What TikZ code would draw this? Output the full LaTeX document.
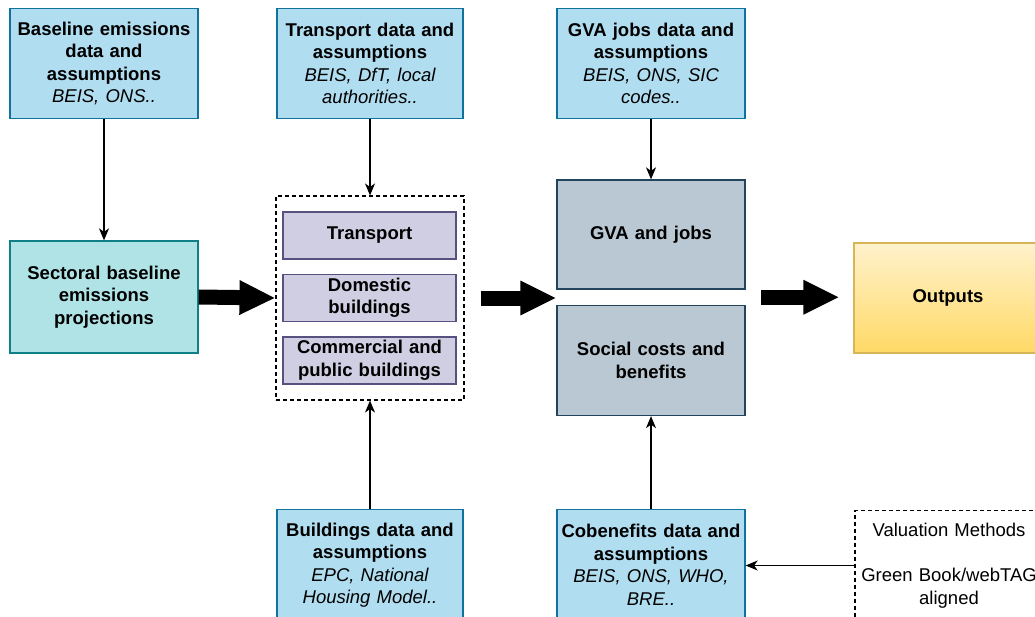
\documentclass[tikz,border=0pt]{standalone}
\usepackage{fontspec}
\setmainfont{Liberation Sans}
\usetikzlibrary{arrows.meta,calc}
\definecolor{bfill}{HTML}{B1DDF0}
\definecolor{bline}{HTML}{10739E}
\definecolor{tfill}{HTML}{B0E3E6}
\definecolor{tline}{HTML}{0E8088}
\definecolor{pfill}{HTML}{D0CEE2}
\definecolor{pline}{HTML}{56517E}
\definecolor{gfill}{HTML}{BAC8D3}
\definecolor{gline}{HTML}{23445D}
\definecolor{ytop}{HTML}{FFF2CC}
\definecolor{ybot}{HTML}{FFD966}
\definecolor{yline}{HTML}{D6B656}
\newcommand\srctext[1]{{\mdseries\itshape #1}}
\begin{document}
\begin{tikzpicture}[x=1pt,y=-1pt,
  font=\fontsize{18.5}{22.5}\selectfont,
  basebox/.style={line width=1.3pt, inner sep=0pt, align=center, font=\fontsize{18.5}{22.5}\selectfont\bfseries},
  databox/.style={basebox, draw=bline, fill=bfill, text width=184pt, minimum width=188pt, minimum height=110pt},
  sectbox/.style={basebox, draw=tline, fill=tfill, text width=184pt, minimum width=188pt, minimum height=112pt},
  subbox/.style={basebox, draw=pline, fill=pfill, text width=170pt, minimum width=173pt, minimum height=47pt},
  greybox/.style={basebox, draw=gline, fill=gfill, text width=184pt, minimum width=188pt, minimum height=109pt},
  outbox/.style={basebox, draw=yline, top color=ytop, bottom color=ybot, text width=184pt, minimum width=188pt, minimum height=110pt},
  dashbox/.style={draw=black, line width=1.1pt, dash pattern=on 4pt off 3pt, inner sep=0pt},
  thinarrow/.style={line width=1.2pt, -{Stealth[length=12pt,width=10pt,inset=3.5pt]}},
  bigarrow/.style={line width=15pt, -{Triangle[length=36pt,width=32pt]}}
]
\path[use as bounding box] (0,0) rectangle (1035,616);

% top data boxes
\node[databox] (bdata) at (104,63.5) {Baseline emissions\\data and\\assumptions\\\srctext{BEIS, ONS..}};
\node[databox, minimum width=186pt] (tdata) at (370,63.5) {Transport data and\\assumptions\\\srctext{BEIS, DfT, local}\\\srctext{authorities..}};
\node[databox] (gdata) at (651,63.5) {GVA jobs data and\\assumptions\\\srctext{BEIS, ONS, SIC}\\\srctext{codes..}};

% sectoral
\node[sectbox] (sect) at (104,297) {Sectoral baseline\\emissions\\projections};

% container
\node[dashbox, minimum width=188pt, minimum height=204pt] (cont) at (370,298) {};
\node[subbox] (itrans) at (369.5,235.5) {Transport};
\node[subbox] (idom) at (369.5,298) {Domestic\\buildings};
\node[subbox] (icom) at (369.5,360.5) {Commercial and\\public buildings};

% grey boxes
\node[greybox] (gva) at (651,234.5) {GVA and jobs};
\node[greybox, minimum height=110pt] (soc) at (651,360.5) {Social costs and\\benefits};

% outputs
\node[outbox] (out) at (948,298) {Outputs};

% bottom data boxes
\node[databox, minimum width=186pt, minimum height=111pt] (bld) at (370,565) {Buildings data and\\assumptions\\\srctext{EPC, National}\\\srctext{Housing Model..}};
\node[databox, minimum height=111pt] (cob) at (651,565) {Cobenefits data and\\assumptions\\\srctext{BEIS, ONS, WHO,}\\\srctext{BRE..}};

% valuation methods
\node[dashbox, minimum width=188pt, minimum height=110pt, text width=186pt, align=center] (val) at (949,565.5) {Valuation Methods\\[22.5pt]Green Book/webTAG\\aligned};

% thin arrows
\draw[thinarrow] (bdata.south) -- (sect.north);
\draw[thinarrow] (tdata.south) -- (cont.north);
\draw[thinarrow] (gdata.south) -- (gva.north);
\draw[thinarrow] (bld.north) -- (cont.south);
\draw[thinarrow] (cob.north) -- (soc.south);
\draw[thinarrow] (val.west) -- (val.west -| cob.east);

% big arrows
\coordinate (gap) at ($(gva.south west)!0.5!(soc.north west)$);
\coordinate (a2s) at ([xshift=16pt]cont.east);
\coordinate (a3s) at ($(gap)+(205,0)$);
\coordinate (a3e) at ([xshift=-14pt]out.west);
\draw[bigarrow] (sect.east) -- (cont.west);
\draw[bigarrow] (a2s) -- (a2s -| gap);
\draw[bigarrow] (a3s) -- (a3s -| a3e);
\end{tikzpicture}
\end{document}
